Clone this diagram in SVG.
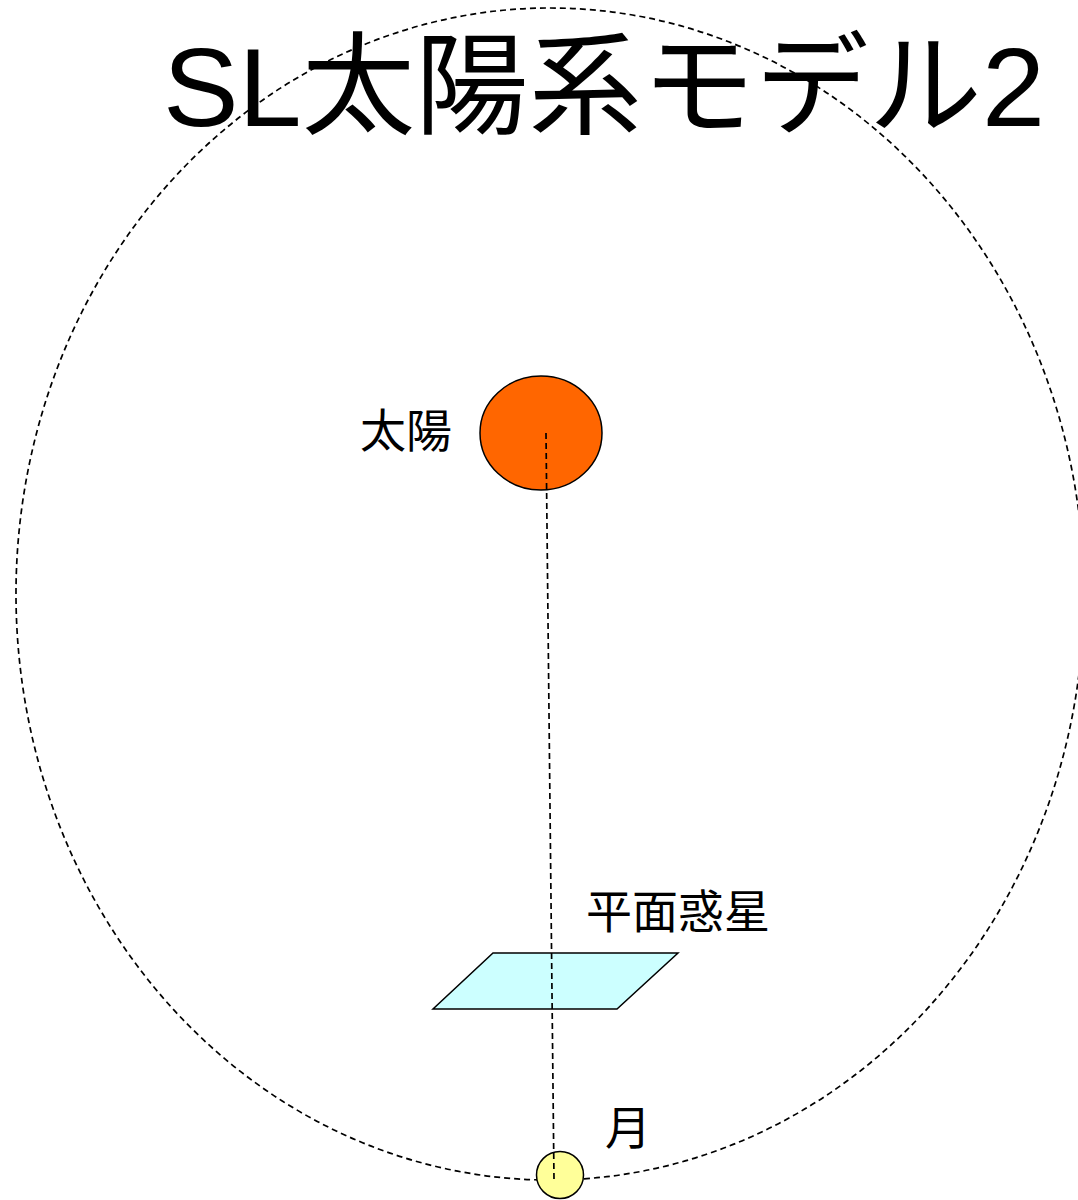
<svg xmlns="http://www.w3.org/2000/svg" width="1078" height="1200" viewBox="0 0 1078 1200">
  <style>
    .jp { font-family: "Liberation Sans", "Noto Sans CJK JP", sans-serif; fill: #000; }
    .label { font-size: 46px; }
    .title { font-size: 112px; }
    .body { stroke: #000; stroke-width: 1.5; }
    .dash { fill: none; stroke: #000; stroke-width: 1.7; stroke-dasharray: 6 4; }
  </style>
  <rect width="1078" height="1200" fill="#fff"/>

  <!-- orbit -->
  <g id="orbit">
    <ellipse class="dash" cx="550" cy="594" rx="534" ry="586"/>
  </g>

  <!-- title -->
  <g id="title">
    <text class="jp title" x="163" y="126" textLength="882" lengthAdjust="spacingAndGlyphs">SL太陽系モデル2</text>
  </g>

  <!-- sun -->
  <g id="sun">
    <ellipse class="body" cx="541" cy="433" rx="61" ry="57" fill="#FF6600"/>
    <text class="jp label" x="360" y="447">太陽</text>
  </g>

  <!-- flat planet -->
  <g id="planet">
    <polygon class="body" points="493,953 678,953 617,1009 433,1009" fill="#CCFFFF"/>
    <text class="jp label" x="586" y="928">平面惑星</text>
  </g>

  <!-- moon -->
  <g id="moon">
    <circle class="body" cx="560" cy="1175" r="23.5" fill="#FFFF99"/>
    <text class="jp label" x="605" y="1144">月</text>
  </g>

  <!-- axis through sun, planet and moon -->
  <g id="connectors">
    <line class="dash" x1="546" y1="433" x2="554" y2="1180" stroke-dasharray="7 4"/>
  </g>
</svg>
